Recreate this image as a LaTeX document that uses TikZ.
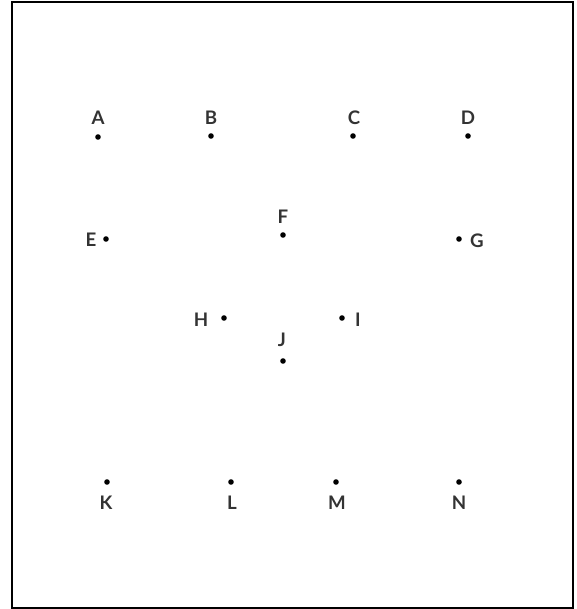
\documentclass[tikz,border=0pt]{standalone}
\usepackage{fontspec}
\setmainfont{Lato}
\begin{document}
\begin{tikzpicture}[x=0.75pt,y=-0.75pt,
  pt/.style={circle,fill=black,inner sep=0pt,minimum size=4.2pt},
  lab/.style={font=\fontsize{14}{16}\selectfont\bfseries,text=black!80,inner sep=0pt}]
\useasboundingbox (0,0) rectangle (576,609);
\node[draw,line width=1.5pt,inner sep=0pt,minimum width=420.75pt,minimum height=453.75pt] (frame) at (292,305) {};
% dots
\node[pt] (A) at (98,137) {};
\node[pt] (B) at (211,136) {};
\node[pt] (C) at (353,136) {};
\node[pt] (D) at (468,136) {};
\node[pt] (E) at (106,239) {};
\node[pt] (F) at (283,235) {};
\node[pt] (G) at (459,239) {};
\node[pt] (H) at (224,318) {};
\node[pt] (I) at (342,318) {};
\node[pt] (J) at (283,361) {};
\node[pt] (K) at (107,482) {};
\node[pt] (L) at (231,482) {};
\node[pt] (M) at (336,482) {};
\node[pt] (N) at (459,482) {};
% labels
\node[lab] (lA) at (98,118) {A};
\node[lab] (lB) at (211,118) {B};
\node[lab] (lC) at (354,118) {C};
\node[lab] (lD) at (468,118) {D};
\node[lab] (lE) at (91,240) {E};
\node[lab] (lF) at (283,217) {F};
\node[lab] (lG) at (477,241) {G};
\node[lab] (lH) at (201,320) {H};
\node[lab] (lI) at (358,320) {I};
\node[lab] (lJ) at (282,340) {J};
\node[lab] (lK) at (106,503) {K};
\node[lab] (lL) at (232,503) {L};
\node[lab] (lM) at (337,503) {M};
\node[lab] (lN) at (459,503) {N};
\end{tikzpicture}
\end{document}
